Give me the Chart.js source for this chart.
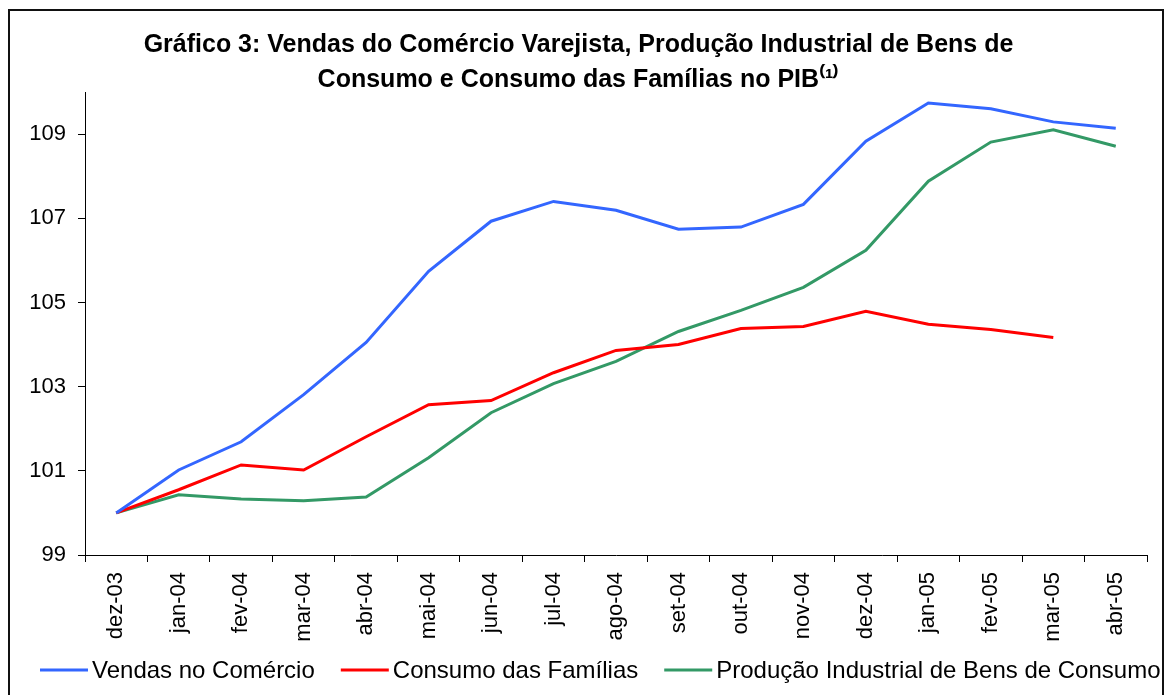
<!DOCTYPE html>
<html>
<head>
<meta charset="utf-8">
<script src="https://cdn.jsdelivr.net/npm/chart.js@4"></script>
<style>
  html, body { margin: 0; padding: 0; background: #fff; }
  #wrap { width: 1165px; height: 695px; position: relative; }
</style>
</head>
<body>
<div id="wrap"><canvas id="chart"></canvas></div>
<script>
// Gráfico 3 - índices (dez-03 = 100)

const months = ['dez-03', 'jan-04', 'fev-04', 'mar-04', 'abr-04', 'mai-04', 'jun-04', 'jul-04',
  'ago-04', 'set-04', 'out-04', 'nov-04', 'dez-04', 'jan-05', 'fev-05', 'mar-05', 'abr-05'];

const vendas = [100.0, 101.02, 101.69, 102.81, 104.05, 105.74, 106.93, 107.40,
  107.19, 106.74, 106.79, 107.33, 108.83, 109.74, 109.60, 109.29, 109.14];

const consumo = [100.0, 100.55, 101.14, 101.02, 101.81, 102.57, 102.67, 103.33,
  103.86, 104.0, 104.38, 104.43, 104.79, 104.48, 104.36, 104.17, null];

const producao = [100.0, 100.43, 100.33, 100.29, 100.38, 101.31, 102.38, 103.07,
  103.6, 104.31, 104.81, 105.36, 106.24, 107.88, 108.81, 109.10, 108.71];

const yTicks = [99, 101, 103, 105, 107, 109];

const COLORS = {
  vendas: '#3366ff',
  consumo: '#ff0000',
  producao: '#339966',
  axis: '#000000',
};

const FONT = '"Liberation Sans", Arial, sans-serif';
Chart.defaults.font.family = FONT;
Chart.defaults.color = '#000';

// moldura em volta do gráfico
const framePlugin = {
  id: 'frame',
  afterDraw(chart) {
    const ctx = chart.ctx;
    ctx.save();
    ctx.strokeStyle = '#111';
    ctx.lineWidth = 2;
    ctx.strokeRect(9, 10, 1154, 720);
    ctx.restore();
  },
};

// legenda em uma linha só, no rodapé (estilo Excel: traço curto + texto)
const bottomLegend = {
  id: 'bottomLegend',
  afterDraw(chart) {
    const ctx = chart.ctx;
    const y = 670;
    let x = 40;
    ctx.save();
    ctx.font = '24px ' + FONT;
    ctx.textBaseline = 'middle';
    ctx.textAlign = 'left';
    chart.data.datasets.forEach(ds => {
      ctx.strokeStyle = ds.borderColor;
      ctx.lineWidth = ds.borderWidth;
      ctx.beginPath();
      ctx.moveTo(x, y);
      ctx.lineTo(x + 48, y);
      ctx.stroke();
      ctx.fillStyle = '#000';
      ctx.fillText(ds.label, x + 52, y + 1);
      x += 52 + ctx.measureText(ds.label).width + 26;
    });
    ctx.restore();
  },
};

function lineSet(label, data, color) {
  return {
    label,
    data,
    borderColor: color,
    backgroundColor: color,
    borderWidth: 3,
    pointRadius: 0,
    pointHoverRadius: 0,
    tension: 0,
    spanGaps: false,
  };
}

new Chart(document.getElementById('chart'), {
  type: 'line',
  data: {
    labels: months,
    datasets: [
      lineSet('Vendas no Comércio', vendas, COLORS.vendas),
      lineSet('Consumo das Famílias', consumo, COLORS.consumo),
      lineSet('Produção Industrial de Bens de Consumo', producao, COLORS.producao),
    ],
  },
  options: {
    responsive: true,
    maintainAspectRatio: false,
    animation: false,
    layout: { padding: { top: 10, left: 10, right: 18, bottom: 50 } },
    plugins: {
      title: {
        display: true,
        text: ['Gráfico 3: Vendas do Comércio Varejista, Produção Industrial de Bens de',
          'Consumo e Consumo das Famílias no PIB⁽¹⁾'],
        color: '#000',
        font: { size: 25, weight: 'bold', lineHeight: '35px' },
        padding: { top: 18, bottom: -6 },
      },
      legend: { display: false },
      tooltip: { enabled: false },
    },
    scales: {
      x: {
        offset: true,
        grid: {
          offset: true,
          drawOnChartArea: false,
          tickLength: 7,
          color: COLORS.axis,
        },
        border: { color: COLORS.axis, width: 1 },
        ticks: {
          autoSkip: false,
          maxRotation: 90,
          minRotation: 90,
          padding: 10,
          font: { size: 22 },
        },
        afterFit: (scale) => { scale.height = 90; },
      },
      y: {
        min: 99,
        max: 110,
        grid: {
          drawOnChartArea: false,
          tickLength: 7,
          color: COLORS.axis,
        },
        border: { color: COLORS.axis, width: 1 },
        ticks: { padding: 12, font: { size: 22 } },
        afterBuildTicks: (scale) => { scale.ticks = yTicks.map(v => ({ value: v })); },
        afterFit: (scale) => {
          scale.width = 75;
          scale.paddingTop = 0;
          scale.paddingBottom = 0;
        },
      },
    },
  },
  plugins: [framePlugin, bottomLegend],
});
</script>
</body>
</html>
